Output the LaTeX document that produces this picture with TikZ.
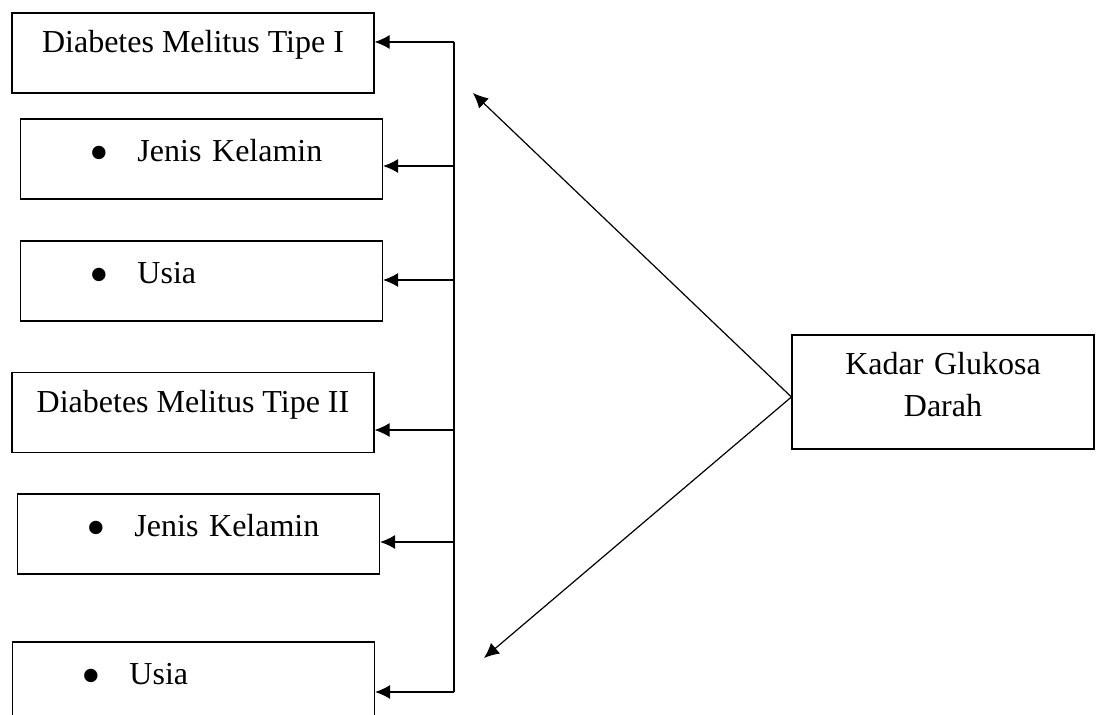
\documentclass[tikz,border=0pt]{standalone}
\usepackage{fontspec}
\setmainfont{Liberation Serif}
\usetikzlibrary{arrows.meta}
\newcommand{\bulet}{\hspace*{34.5pt}\makebox[24pt][l]{\raisebox{-4.8pt}{\fontsize{28pt}{28pt}\selectfont\textbullet}}}
\begin{document}
\begin{tikzpicture}[x=0.5pt,y=-0.5pt]
		\tikzstyle{kotak}=[draw=black,line width=0.6pt,minimum width=181pt,minimum height=40pt,inner sep=0pt,font=\fontsize{16pt}{21pt}\selectfont]
		\tikzstyle{judul}=[kotak,text height=20pt,text depth=20pt]
		\tikzstyle{butir}=[kotak,text width=181pt,align=left,text height=21.5pt,text depth=18.5pt]
		\tikzstyle{edge}=[line width=0.6pt,->,>={Latex[length=7.5pt,width=7pt]}]
		\useasboundingbox (0,0) rectangle (1100,715);
		\clip (0,0) rectangle (1100,715);
		\begin{scope}
			\node [judul] (dm1) at (193,53) {Diabetes Melitus Tipe I};
			\node [butir] (jk1) at (201.5,159) {\bulet Jenis Kelamin};
			\node [butir] (us1) at (201.5,281) {\bulet Usia};
			\node [judul] (dm2) at (193,412.5) {Diabetes Melitus Tipe II};
			\node [butir] (jk2) at (198.5,534) {\bulet Jenis Kelamin};
			\node [butir] (us2) at (193.5,682) {\bulet Usia};
			\node [kotak,minimum width=151pt,text width=151pt,align=center,text height=20pt,text depth=37pt] (kgd) at (943,392) {Kadar Glukosa\\Darah};
			\coordinate (p1) at (454,42);
			\coordinate (p2) at (454,166);
			\coordinate (p3) at (454,280);
			\coordinate (p4) at (454,430);
			\coordinate (p5) at (454,542);
			\coordinate (p6) at (454,692);
			\coordinate (t1) at (473,93);
			\coordinate (t2) at (484,658);
			\coordinate (q) at ([yshift=-2.5pt]kgd.west);
			\draw[line width=0.6pt] (p1) -- (p6);
			\draw[edge] (p1) -- (p1 -| dm1.east);
			\draw[edge] (p2) -- (p2 -| jk1.east);
			\draw[edge] (p3) -- (p3 -| us1.east);
			\draw[edge] (p4) -- (p4 -| dm2.east);
			\draw[edge] (p5) -- (p5 -| jk2.east);
			\draw[edge] (p6) -- (p6 -| us2.east);
			\draw[edge] (q) -- (t1);
			\draw[edge] (q) -- (t2);
		\end{scope}
\end{tikzpicture}
\end{document}
